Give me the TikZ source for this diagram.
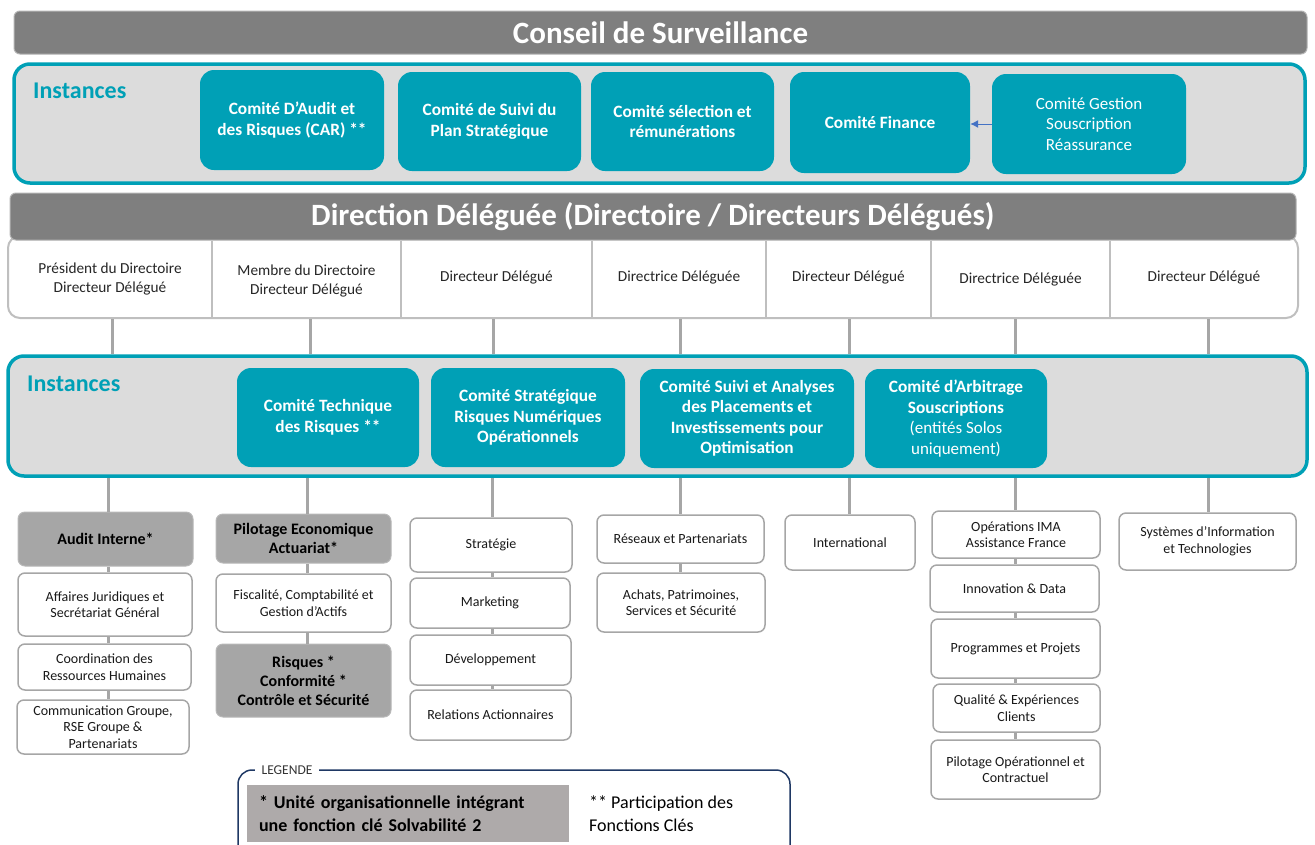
\documentclass[tikz,border=0pt]{standalone}
\usepackage{fontspec}
\setmainfont{Carlito}
\usetikzlibrary{arrows.meta}
\definecolor{tealc}{HTML}{00A0B6}
\definecolor{barg}{HTML}{7F7F7F}
\definecolor{instbg}{HTML}{DCDCDC}
\definecolor{boxg}{HTML}{A6A6A6}
\definecolor{lineg}{HTML}{A6A6A6}
\definecolor{rowline}{HTML}{BFBFBF}
\definecolor{leggray}{HTML}{AEAAAA}
\definecolor{navy}{HTML}{1F3864}
\definecolor{arrowblue}{HTML}{4472C4}
\newcommand\bx[7]{\node[#2, minimum width={(#5-#3)*1pt}, minimum height={(#6-#4)*1pt}] (#1) at ({(#3+#5)/2},{(#4+#6)/2}) {#7};}
\tikzset{
  bar/.style={fill=barg, draw=black!30, line width=1, rounded corners=6, text=white, inner sep=0,
    font=\bfseries\fontsize{31}{34}\selectfont},
  instbox/.style={fill=instbg, draw=tealc, line width=3.5, rounded corners=16},
  instlabel/.style={text=tealc, anchor=west, inner sep=0, font=\bfseries\fontsize{24}{28}\selectfont},
  comite/.style={fill=tealc, draw=none, rounded corners=14, text=white, align=center, inner sep=2,
    font=\bfseries\fontsize{17.3}{20.5}\selectfont},
  comitelight/.style={comite, font=\fontsize{17}{20.5}\selectfont},
  dirrow/.style={fill=white, draw=rowline, line width=2, rounded corners=12},
  dircell/.style={align=center, text=black!85, inner sep=0, font=\fontsize{15.3}{18.5}\selectfont},
  divider/.style={draw=rowline, line width=2},
  unit/.style={draw=lineg, line width=1.5, fill=white, rounded corners=7, align=center, inner sep=2,
    text=black!90, font=\fontsize{14}{16.5}\selectfont},
  keyunit/.style={unit, fill=boxg, draw=boxg!80, line width=1, text=black,
    font=\bfseries\fontsize{16}{19}\selectfont},
  conn/.style={draw=lineg, line width=3},
  legbox/.style={draw=navy, line width=1.5, rounded corners=14},
  leglabel/.style={fill=white, inner xsep=7, inner ysep=1, text=black!80, font=\fontsize{13.5}{14}\selectfont},
  legkey/.style={fill=leggray, text width=298, inner xsep=12, align=left,
    font=\bfseries\fontsize{18}{23}\selectfont},
  legtext/.style={anchor=north west, align=left, inner sep=0, font=\fontsize{18}{23}\selectfont}
}
\begin{document}
\begin{tikzpicture}[x=1pt,y=-1pt]
\useasboundingbox (0,0) rectangle (1315,844);

% ---- Conseil de Surveillance ----
\bx{conseil}{bar}{14}{11}{1307}{54}{Conseil de Surveillance}

\bx{inst1}{instbox}{14}{64}{1305}{183}{}
\node[instlabel] (lab1) at (33,91) {Instances};
\bx{car}{comite}{200}{70}{384}{170}{Comité D’Audit et\\des Risques (CAR) **}
\bx{suivi}{comite}{398}{72}{581}{171}{Comité de Suivi du\\Plan Stratégique}
\bx{select}{comite}{591}{72}{774}{171}{Comité sélection et\\rémunérations}
\bx{fin}{comite}{790}{72}{970}{173}{Comité Finance}
\bx{gest}{comitelight}{992}{74}{1186}{174}{Comité Gestion\\Souscription\\Réassurance}
\draw[-{Latex[length=8,width=8]}, arrowblue, line width=1] (gest.west) -- (gest.west -| fin.east);

% ---- Direction ----
\bx{drow}{dirrow}{8}{236}{1298}{318}{}
\bx{direction}{bar}{10}{193}{1296}{240}{Direction Déléguée (Directoire / Directeurs Délégués)}
\bx{d1}{dircell}{8}{240}{212}{318}{Président du Directoire\\Directeur Délégué}
\bx{d2}{dircell}{212}{242}{401}{320}{Membre du Directoire\\Directeur Délégué}
\bx{d3}{dircell}{401}{236}{592}{318}{Directeur Délégué}
\bx{d4}{dircell}{592}{236}{766}{318}{Directrice Déléguée}
\bx{d5}{dircell}{766}{236}{931}{318}{Directeur Délégué}
\bx{d6}{dircell}{931}{240}{1110}{318}{Directrice Déléguée}
\bx{d7}{dircell}{1110}{236}{1298}{318}{Directeur Délégué}
\foreach \c in {d1,d2,d3,d4,d5,d6} {\draw[divider] (\c.north east |- direction.south) -- (\c.east |- drow.south);}

% ---- Instances 2 ----
\bx{inst2}{instbox}{8}{356}{1307}{476}{}
\node[instlabel] (lab2) at (27,384) {Instances};
\bx{ctr}{comite}{237}{368}{419}{467}{Comité Technique\\des Risques **}
\bx{csr}{comite}{431}{368}{625}{467}{Comité Stratégique\\Risques Numériques\\Opérationnels}
\bx{csa}{comite}{640}{369}{854}{468}{Comité Suivi et Analyses\\des Placements et\\Investissements pour\\Optimisation}
\bx{cas}{comite}{865}{369}{1047}{468}{Comité d’Arbitrage\\Souscriptions\\\mdseries\fontsize{17}{20.5}\selectfont (entités Solos\\\mdseries\fontsize{17}{20.5}\selectfont uniquement)}

% connectors director -> instances
\foreach \i/\x in {1/112,2/310,3/493,4/680,5/849,6/1015,7/1208} {
  \coordinate (j\i) at (\x,0);
  \draw[conn] (j\i |- drow.south) -- (j\i |- inst2.north);
}

% ---- Columns ----
\bx{c1a}{keyunit}{18}{512}{193}{566}{Audit Interne*}
\bx{c1b}{unit}{18}{573}{192}{636}{Affaires Juridiques et\\Secrétariat Général}
\bx{c1c}{unit}{18}{644}{191}{690}{Coordination des\\Ressources Humaines}
\bx{c1d}{unit}{17}{700}{189}{754}{Communication Groupe,\\RSE Groupe \&\\Partenariats}

\bx{c2a}{keyunit}{216}{514}{391}{563}{Pilotage Economique\\Actuariat*}
\bx{c2b}{unit}{216}{574}{391}{632}{Fiscalité, Comptabilité et\\Gestion d’Actifs}
\bx{c2c}{keyunit}{216}{644}{391}{717}{Risques *\\Conformité *\\Contrôle et Sécurité}

\bx{c3a}{unit}{410}{518}{572}{572}{Stratégie}
\bx{c3b}{unit}{410}{578}{570}{628}{Marketing}
\bx{c3c}{unit}{410}{635}{571}{685}{Développement}
\bx{c3d}{unit}{410}{690}{571}{740}{Relations Actionnaires}

\bx{c4a}{unit}{597}{515}{764}{563}{Réseaux et Partenariats}
\bx{c4b}{unit}{597}{573}{765}{632}{Achats, Patrimoines,\\Services et Sécurité}

\bx{c5a}{unit}{785}{515}{915}{570}{International}

\bx{c6a}{unit}{932}{511}{1100}{558}{Opérations IMA\\Assistance France}
\bx{c6b}{unit}{930}{565}{1099}{612}{Innovation \& Data}
\bx{c6c}{unit}{931}{619}{1100}{678}{Programmes et Projets}
\bx{c6d}{unit}{933}{684}{1100}{732}{Qualité \& Expériences\\Clients}
\bx{c6e}{unit}{931}{740}{1100}{799}{Pilotage Opérationnel et\\Contractuel}

\bx{c7a}{unit}{1119}{513}{1296}{570}{Systèmes d’Information\\et Technologies}

% connectors instances -> columns
\foreach \i/\x in {1/108,2/307,3/492,4/680,5/849,6/1015,7/1208} {
  \coordinate (k\i) at (\x,0);
  \draw[conn] (k\i |- inst2.south) -- (k\i |- c\i a.north);
}
\draw[conn] (k1 |- c1a.south) -- (k1 |- c1b.north);
\draw[conn] (k1 |- c1b.south) -- (k1 |- c1c.north);
\draw[conn] (k1 |- c1c.south) -- (k1 |- c1d.north);
\draw[conn] (k2 |- c2a.south) -- (k2 |- c2b.north);
\draw[conn] (k2 |- c2b.south) -- (k2 |- c2c.north);
\draw[conn] (k3 |- c3a.south) -- (k3 |- c3b.north);
\draw[conn] (k3 |- c3b.south) -- (k3 |- c3c.north);
\draw[conn] (k3 |- c3c.south) -- (k3 |- c3d.north);
\draw[conn] (k4 |- c4a.south) -- (k4 |- c4b.north);
\draw[conn] (k6 |- c6a.south) -- (k6 |- c6b.north);
\draw[conn] (k6 |- c6b.south) -- (k6 |- c6c.north);
\draw[conn] (k6 |- c6c.south) -- (k6 |- c6d.north);
\draw[conn] (k6 |- c6d.south) -- (k6 |- c6e.north);

% ---- Legend ----
\bx{leg}{legbox}{238}{770}{790}{880}{}
\node[leglabel] (leglab) at (287,770) {LEGENDE};
\bx{legA}{legkey}{247}{785}{569}{842}{* Unité organisationnelle intégrant\\une fonction clé Solvabilité 2}
\node[legtext] (legB) at (589,796) {** Participation des\\Fonctions Clés};
\end{tikzpicture}
\end{document}
